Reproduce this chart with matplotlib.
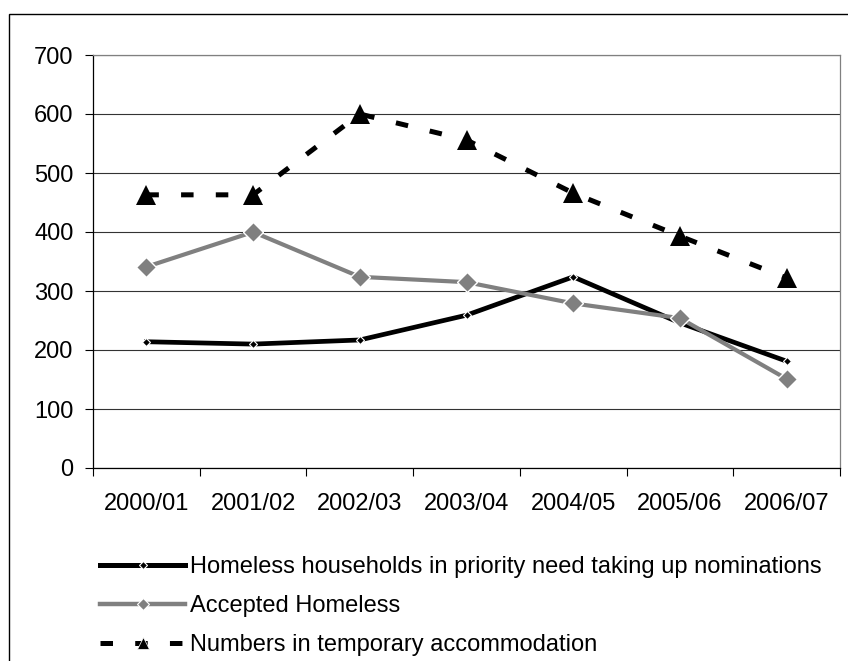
import matplotlib.pyplot as plt
from matplotlib.patches import Rectangle
from matplotlib.lines import Line2D

plt.rcParams['font.family'] = ['Liberation Sans', 'DejaVu Sans']
plt.rcParams['lines.scale_dashes'] = False

years = ['2000/01', '2001/02', '2002/03', '2003/04', '2004/05', '2005/06', '2006/07']
nominations = [214, 210, 217, 259, 324, 246, 181]
accepted = [341, 400, 324, 315, 279, 254, 151]
temporary = [463, 463, 600, 556, 466, 393, 322]
labels = ['Homeless households in priority need taking up nominations',
          'Accepted Homeless',
          'Numbers in temporary accommodation']

fig = plt.figure(figsize=(8.48, 6.61), dpi=100)
ax = fig.add_axes([93 / 848, 1 - 468 / 661, 747 / 848, 413 / 661])

x = range(len(years))
ax.plot(x, nominations, color='black', lw=3.4, marker='D', ms=4.5,
        mfc='black', mec='white', mew=0.8, zorder=3)
ax.plot(x, accepted, color='#808080', lw=3.0, marker='D', ms=10,
        mfc='#808080', mec='white', mew=1, zorder=4)
ax.plot(x, temporary, color='black', lw=3.6, ls=(0, (9, 16)), marker='^', ms=14,
        mfc='black', mec='black', mew=0, zorder=5)

ax.set_xlim(-0.5, 6.5)
ax.set_ylim(0, 700)
ax.set_yticks(range(0, 701, 100))
ax.yaxis.grid(True, color='#333333', lw=0.8)
ax.set_axisbelow(True)

# category labels in the middle, tick marks on the boundaries
ax.set_xticks([i - 0.5 for i in range(len(years) + 1)])
ax.set_xticklabels([])
ax.set_xticks(list(x), minor=True)
ax.set_xticklabels(years, minor=True)
ax.tick_params(axis='x', which='major', length=6, width=0.8, direction='out')
ax.tick_params(axis='x', which='minor', length=0, pad=18, labelsize=17)
ax.tick_params(axis='y', length=6, width=0.8, direction='out', pad=8, labelsize=17)

ax.spines['left'].set_color('black')
ax.spines['bottom'].set_color('black')
ax.spines['top'].set_color('#808080')
ax.spines['right'].set_color('#808080')
for s in ax.spines.values():
    s.set_linewidth(0.9)

# legend handles with the smaller markers used in the key
handles = [
    Line2D([], [], color='black', lw=3.6, marker='D', ms=4.5,
           mfc='black', mec='white', mew=0.8),
    Line2D([], [], color='#808080', lw=3.2, marker='D', ms=6,
           mfc='#808080', mec='white', mew=0.8),
    Line2D([], [], color='black', lw=3.6, ls=(0, (9, 16)), marker='^', ms=9,
           mfc='black', mec='white', mew=0.5),
]
fig.legend(handles, labels, loc='upper left', bbox_to_anchor=(100 / 848, 1 - 556 / 661),
           frameon=False, fontsize=17, handlelength=3.6, handletextpad=0.2,
           labelspacing=0.72, borderpad=0, borderaxespad=0)

# outer chart frame
fig.patches.append(Rectangle((9 / 848, -0.1), 1.0, 1.1 - 14 / 661,
                             transform=fig.transFigure, fill=False,
                             edgecolor='black', lw=1))

fig.savefig('out.png', dpi=100)
